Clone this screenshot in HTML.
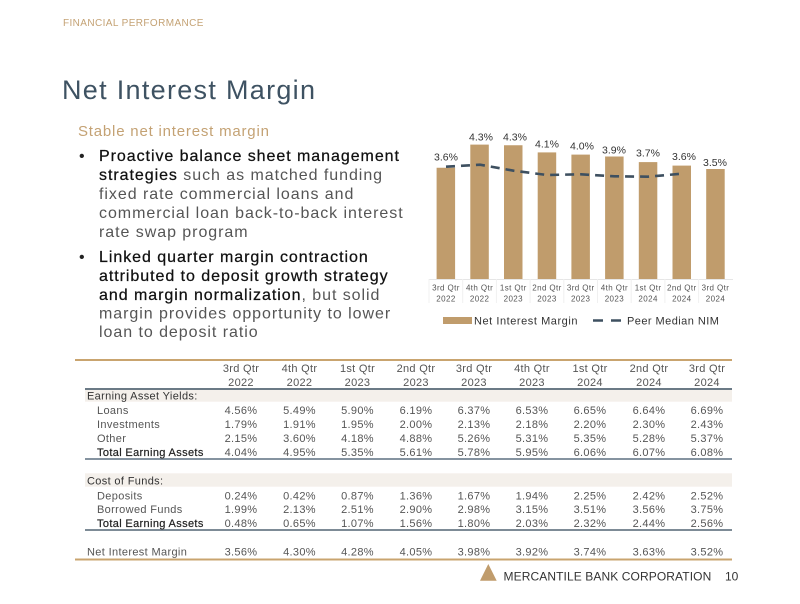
<!DOCTYPE html>
<html><head><meta charset="utf-8">
<style>
html,body{margin:0;padding:0;background:#fff;}
svg{display:block;}
text{font-family:"Liberation Sans",Arial,sans-serif;}
.b{stroke:#111;stroke-width:0.25px;}
</style></head>
<body>
<svg width="800" height="604" viewBox="0 0 800 604" xmlns="http://www.w3.org/2000/svg">
<rect width="800" height="604" fill="#fff"/>
<!-- header -->
<text x="63" y="26" font-size="10" fill="#c4a274" letter-spacing="0.4">FINANCIAL PERFORMANCE</text>
<text x="62" y="99" font-size="27" fill="#3e5262" letter-spacing="1.3">Net Interest Margin</text>
<text x="78" y="136" font-size="15" fill="#c4a274" letter-spacing="0.8">Stable net interest margin</text>

<!-- bullets -->
<g font-size="16" letter-spacing="0.95">
<text x="79" y="161" fill="#222">•</text>
<text x="99" y="161" fill="#111" class="b">Proactive balance sheet management</text>
<text x="99" y="180"><tspan fill="#111" class="b">strategies</tspan><tspan fill="#555"> such as matched funding</tspan></text>
<text x="99" y="199" fill="#555">fixed rate commercial loans and</text>
<text x="99" y="218" fill="#555">commercial loan back-to-back interest</text>
<text x="99" y="237" fill="#555">rate swap program</text>
<text x="79" y="262" fill="#222">•</text>
<text x="99" y="262" fill="#111" class="b">Linked quarter margin contraction</text>
<text x="99" y="281" fill="#111" class="b">attributed to deposit growth strategy</text>
<text x="99" y="300"><tspan fill="#111" class="b">and margin normalization</tspan><tspan fill="#555">, but solid</tspan></text>
<text x="99" y="318.5" fill="#555">margin provides opportunity to lower</text>
<text x="99" y="337" fill="#555">loan to deposit ratio</text>
</g>

<!-- chart -->
<g fill="#c09c6c">
<rect x="436.6" y="167.75" width="18.5" height="111.25"/>
<rect x="470.3" y="144.6" width="18.5" height="134.4"/>
<rect x="504.0" y="145.25" width="18.5" height="133.75"/>
<rect x="537.7" y="152.4" width="18.5" height="126.6"/>
<rect x="571.4" y="154.6" width="18.5" height="124.4"/>
<rect x="605.1" y="156.5" width="18.5" height="122.5"/>
<rect x="638.8" y="162.1" width="18.5" height="116.9"/>
<rect x="672.5" y="165.6" width="18.5" height="113.4"/>
<rect x="706.2" y="169" width="18.5" height="110"/>
</g>
<line x1="429" y1="279.5" x2="733" y2="279.5" stroke="#e6e6e6" stroke-width="1"/>
<g stroke="#f0f0f0" stroke-width="1">
<line x1="429" y1="279" x2="429" y2="303"/>
<line x1="462.7" y1="279" x2="462.7" y2="303"/>
<line x1="496.4" y1="279" x2="496.4" y2="303"/>
<line x1="530.1" y1="279" x2="530.1" y2="303"/>
<line x1="563.8" y1="279" x2="563.8" y2="303"/>
<line x1="597.5" y1="279" x2="597.5" y2="303"/>
<line x1="631.2" y1="279" x2="631.2" y2="303"/>
<line x1="664.9" y1="279" x2="664.9" y2="303"/>
<line x1="698.6" y1="279" x2="698.6" y2="303"/>
</g>
<polyline points="446,166.7 480,164.7 513.5,170.7 547,175 581,174.3 614.5,176.3 648,176.7 682,173.7" fill="none" stroke="#3e5060" stroke-width="2.6" stroke-dasharray="9 6"/>
<g font-size="10.5" fill="#333" text-anchor="middle">
<text x="446" y="160.7">3.6%</text>
<text x="481" y="140.7">4.3%</text>
<text x="515" y="140.7">4.3%</text>
<text x="547" y="147.3">4.1%</text>
<text x="582" y="149.3">4.0%</text>
<text x="614" y="153.3">3.9%</text>
<text x="648" y="156.7">3.7%</text>
<text x="684" y="160">3.6%</text>
<text x="715" y="166">3.5%</text>
</g>
<g font-size="8" fill="#555" text-anchor="middle" letter-spacing="0.4">
<text x="446" y="290.7">3rd Qtr</text><text x="446" y="301.7">2022</text>
<text x="479.6" y="290.7">4th Qtr</text><text x="479.6" y="301.7">2022</text>
<text x="513.3" y="290.7">1st Qtr</text><text x="513.3" y="301.7">2023</text>
<text x="547" y="290.7">2nd Qtr</text><text x="547" y="301.7">2023</text>
<text x="580.7" y="290.7">3rd Qtr</text><text x="580.7" y="301.7">2023</text>
<text x="614.4" y="290.7">4th Qtr</text><text x="614.4" y="301.7">2023</text>
<text x="648.1" y="290.7">1st Qtr</text><text x="648.1" y="301.7">2024</text>
<text x="681.8" y="290.7">2nd Qtr</text><text x="681.8" y="301.7">2024</text>
<text x="715.5" y="290.7">3rd Qtr</text><text x="715.5" y="301.7">2024</text>
</g>
<!-- legend -->
<rect x="443" y="317" width="29" height="7" fill="#c09c6c"/>
<text x="474" y="324.5" font-size="11" fill="#333" letter-spacing="0.55">Net Interest Margin</text>
<line x1="593" y1="320.5" x2="622" y2="320.5" stroke="#3e5060" stroke-width="2.6" stroke-dasharray="10 8"/>
<text x="627" y="324.5" font-size="11" fill="#333" letter-spacing="0.45">Peer Median NIM</text>

<!-- table -->
<rect x="85" y="390" width="647" height="11.7" fill="#f4f0eb"/>
<rect x="85" y="473.3" width="647" height="13.4" fill="#f4f0eb"/>
<line x1="75" y1="360" x2="732" y2="360" stroke="#c9a46f" stroke-width="2"/>
<line x1="85" y1="389" x2="732" y2="389" stroke="#6b7a86" stroke-width="2"/>
<line x1="85" y1="459" x2="732" y2="459" stroke="#8593a0" stroke-width="2"/>
<line x1="85" y1="530" x2="732" y2="530" stroke="#7d8b96" stroke-width="2"/>
<line x1="75" y1="559.5" x2="732" y2="559.5" stroke="#c9a46f" stroke-width="2"/>

<g font-size="11" letter-spacing="0.35">
<text x="87" y="399.5" fill="#333">Earning Asset Yields:</text>
<text x="97" y="414" fill="#555">Loans</text>
<text x="97" y="428" fill="#555">Investments</text>
<text x="97" y="442" fill="#555">Other</text>
<text x="97" y="456" fill="#222" stroke="#222" stroke-width="0.2">Total Earning Assets</text>
<text x="87" y="484.5" fill="#333">Cost of Funds:</text>
<text x="97" y="499.5" fill="#555">Deposits</text>
<text x="97" y="513" fill="#555">Borrowed Funds</text>
<text x="97" y="527" fill="#222" stroke="#222" stroke-width="0.2">Total Earning Assets</text>
<text x="87" y="555.5" fill="#555">Net Interest Margin</text>
</g>
<g font-size="11" letter-spacing="0.3" fill="#555" text-anchor="middle">
<text x="241" y="372">3rd Qtr</text><text x="241" y="386">2022</text>
<text x="299.5" y="372">4th Qtr</text><text x="299.5" y="386">2022</text>
<text x="357.5" y="372">1st Qtr</text><text x="357.5" y="386">2023</text>
<text x="416" y="372">2nd Qtr</text><text x="416" y="386">2023</text>
<text x="474" y="372">3rd Qtr</text><text x="474" y="386">2023</text>
<text x="532" y="372">4th Qtr</text><text x="532" y="386">2023</text>
<text x="590" y="372">1st Qtr</text><text x="590" y="386">2024</text>
<text x="649" y="372">2nd Qtr</text><text x="649" y="386">2024</text>
<text x="707" y="372">3rd Qtr</text><text x="707" y="386">2024</text>

<text x="241" y="414">4.56%</text><text x="299.5" y="414">5.49%</text><text x="357.5" y="414">5.90%</text><text x="416" y="414">6.19%</text><text x="474" y="414">6.37%</text><text x="532" y="414">6.53%</text><text x="590" y="414">6.65%</text><text x="649" y="414">6.64%</text><text x="707" y="414">6.69%</text>
<text x="241" y="428">1.79%</text><text x="299.5" y="428">1.91%</text><text x="357.5" y="428">1.95%</text><text x="416" y="428">2.00%</text><text x="474" y="428">2.13%</text><text x="532" y="428">2.18%</text><text x="590" y="428">2.20%</text><text x="649" y="428">2.30%</text><text x="707" y="428">2.43%</text>
<text x="241" y="442">2.15%</text><text x="299.5" y="442">3.60%</text><text x="357.5" y="442">4.18%</text><text x="416" y="442">4.88%</text><text x="474" y="442">5.26%</text><text x="532" y="442">5.31%</text><text x="590" y="442">5.35%</text><text x="649" y="442">5.28%</text><text x="707" y="442">5.37%</text>
<text x="241" y="456">4.04%</text><text x="299.5" y="456">4.95%</text><text x="357.5" y="456">5.35%</text><text x="416" y="456">5.61%</text><text x="474" y="456">5.78%</text><text x="532" y="456">5.95%</text><text x="590" y="456">6.06%</text><text x="649" y="456">6.07%</text><text x="707" y="456">6.08%</text>

<text x="241" y="499.5">0.24%</text><text x="299.5" y="499.5">0.42%</text><text x="357.5" y="499.5">0.87%</text><text x="416" y="499.5">1.36%</text><text x="474" y="499.5">1.67%</text><text x="532" y="499.5">1.94%</text><text x="590" y="499.5">2.25%</text><text x="649" y="499.5">2.42%</text><text x="707" y="499.5">2.52%</text>
<text x="241" y="513">1.99%</text><text x="299.5" y="513">2.13%</text><text x="357.5" y="513">2.51%</text><text x="416" y="513">2.90%</text><text x="474" y="513">2.98%</text><text x="532" y="513">3.15%</text><text x="590" y="513">3.51%</text><text x="649" y="513">3.56%</text><text x="707" y="513">3.75%</text>
<text x="241" y="527">0.48%</text><text x="299.5" y="527">0.65%</text><text x="357.5" y="527">1.07%</text><text x="416" y="527">1.56%</text><text x="474" y="527">1.80%</text><text x="532" y="527">2.03%</text><text x="590" y="527">2.32%</text><text x="649" y="527">2.44%</text><text x="707" y="527">2.56%</text>

<text x="241" y="555.5">3.56%</text><text x="299.5" y="555.5">4.30%</text><text x="357.5" y="555.5">4.28%</text><text x="416" y="555.5">4.05%</text><text x="474" y="555.5">3.98%</text><text x="532" y="555.5">3.92%</text><text x="590" y="555.5">3.74%</text><text x="649" y="555.5">3.63%</text><text x="707" y="555.5">3.52%</text>
</g>

<!-- footer -->
<polygon points="480,580.7 488.3,564 496.7,580.7" fill="#c09c6c"/>
<text x="503.5" y="580.5" font-size="12" fill="#333" letter-spacing="0.1">MERCANTILE BANK CORPORATION</text>
<text x="725" y="580.5" font-size="12" fill="#333">10</text>
</svg>
</body></html>
